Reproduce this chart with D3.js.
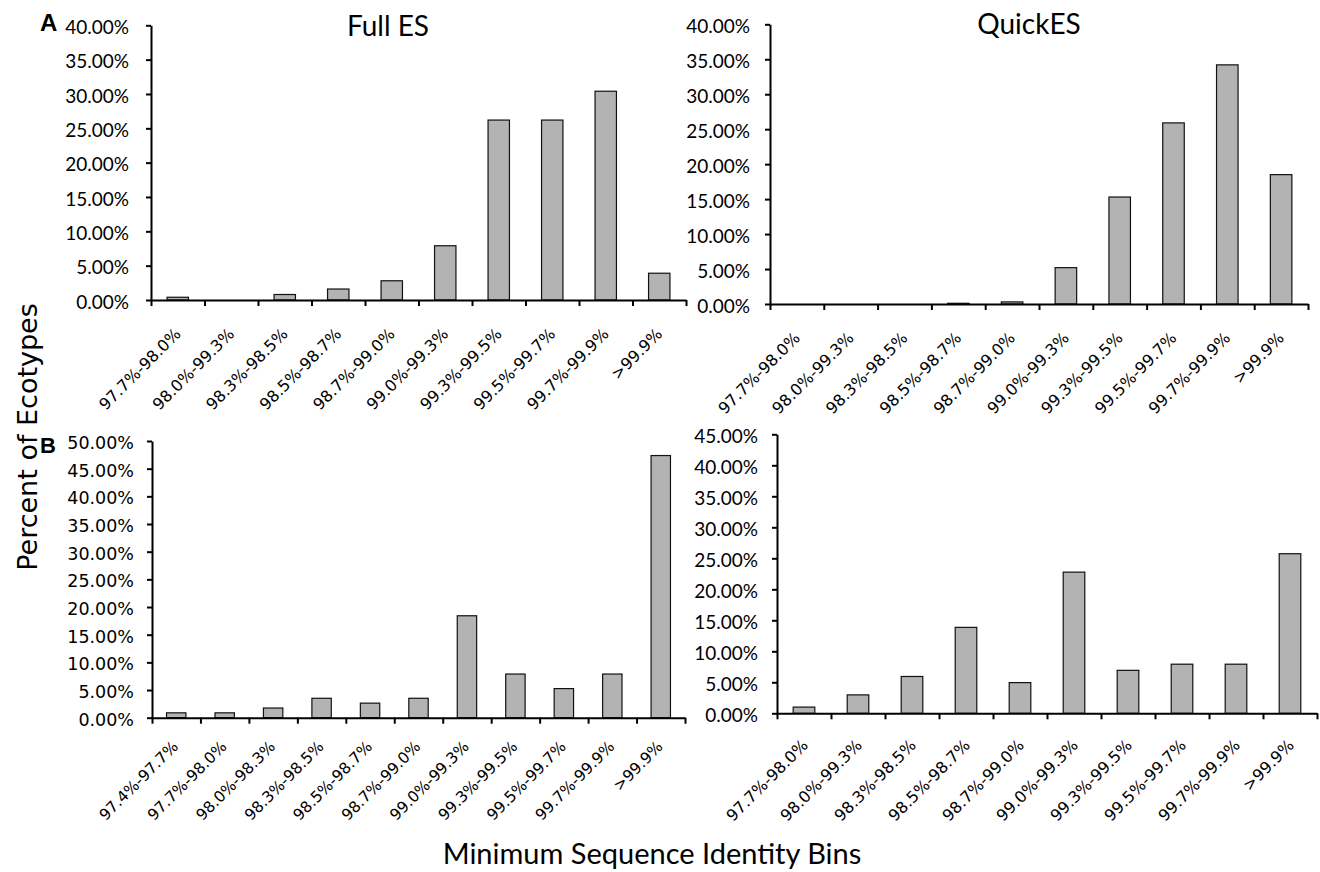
<!DOCTYPE html>
<html>
<head>
<meta charset="utf-8">
<script src="https://cdn.jsdelivr.net/npm/d3@7"></script>
<style>
  html, body { margin: 0; padding: 0; background: #fff; }
  svg { display: block; }
</style>
</head>
<body>
<svg id="chart" width="1320" height="872"></svg>
<script>
// ---------- DATA ----------
const binsTen = ["97.7%-98.0%", "98.0%-99.3%", "98.3%-98.5%", "98.5%-98.7%", "98.7%-99.0%",
                 "99.0%-99.3%", "99.3%-99.5%", "99.5%-99.7%", "99.7%-99.9%", ">99.9%"];
const binsEleven = ["97.4%-97.7%", "97.7%-98.0%", "98.0%-98.3%", "98.3%-98.5%", "98.5%-98.7%",
                    "98.7%-99.0%", "99.0%-99.3%", "99.3%-99.5%", "99.5%-99.7%", "99.7%-99.9%", ">99.9%"];
const fullES_A  = [0.4, 0, 0.8, 1.6, 2.8, 7.9, 26.2, 26.2, 30.4, 3.9];
const quickES_A = [0, 0, 0, 0.1, 0.3, 5.2, 15.3, 25.9, 34.2, 18.5];
const fullES_B  = [0.88, 0.88, 1.75, 3.51, 2.63, 3.51, 18.42, 7.89, 5.26, 7.89, 47.37];
const quickES_B = [1.0, 2.97, 5.94, 13.86, 4.95, 22.77, 6.93, 7.92, 7.92, 25.74];
const yTicks40 = [0, 5, 10, 15, 20, 25, 30, 35, 40];
const yTicks50 = [0, 5, 10, 15, 20, 25, 30, 35, 40, 45, 50];
const yTicks45 = [0, 5, 10, 15, 20, 25, 30, 35, 40, 45];
const titles = ["Full ES", "QuickES"];
const panelLetters = ["A", "B"];
const yTitle = "Percent of Ecotypes";
const xTitle = "Minimum Sequence Identity Bins";

// ---------- DRAW ----------
const svg = d3.select("#chart");
const fmt = d => d3.format(".2f")(d) + "%";

function panel(cfg) {
  const g = svg.append("g");
  const n = cfg.cats.length;
  const x = d3.scaleBand().domain(cfg.cats).range([cfg.x0, cfg.x1])
              .paddingInner(0.6).paddingOuter(0.3);
  const xb = d3.scaleLinear().domain([0, n]).range([cfg.x0, cfg.x1]);
  const y = d3.scaleLinear().domain([0, cfg.yMax]).range([cfg.yBottom, cfg.yTop]);

  // bars
  g.selectAll("rect.bar").data(cfg.values).join("rect")
    .attr("class", "bar")
    .attr("x", (d, i) => x(cfg.cats[i]))
    .attr("y", d => y(d))
    .attr("width", x.bandwidth())
    .attr("height", d => y(0) - y(d))
    .attr("fill", "#b3b3b3")
    .attr("stroke", "#111")
    .attr("stroke-width", 1.2);

  // y axis
  const ya = g.append("g").attr("transform", `translate(${cfg.x0},0)`)
    .call(d3.axisLeft(y).tickValues(cfg.ticks).tickSize(5).tickSizeOuter(0)
          .tickPadding(cfg.tickPad).tickFormat(fmt));
  ya.selectAll("path, line").attr("stroke", "#000").attr("stroke-width", 2);
  ya.selectAll("text").attr("font-family", cfg.yFont).attr("font-size", cfg.yFontSize)
    .attr("fill", "#000").attr("y", 2);

  // x axis (boundary ticks)
  const xa = g.append("g").attr("transform", `translate(0,${cfg.yBottom})`)
    .call(d3.axisBottom(xb).tickValues(d3.range(n + 1)).tickSize(6).tickSizeOuter(0)
          .tickFormat(""));
  xa.selectAll("path, line").attr("stroke", "#000").attr("stroke-width", 2);

  // x category labels
  g.selectAll("text.xl").data(cfg.cats).join("text")
    .attr("class", "xl")
    .attr("text-anchor", "end")
    .attr("font-family", "DejaVu Sans")
    .attr("font-size", cfg.xFontSize)
    .attr("fill", "#000")
    .attr("transform", d => `translate(${x(d) + x.bandwidth() / 2 + cfg.lx},${cfg.yBottom + cfg.ly}) rotate(-45)`)
    .text(d => d);
}

panel({ cats: binsTen, values: fullES_A, ticks: yTicks40, yMax: 40,
        x0: 151, x1: 686, yBottom: 300, yTop: 25.3,
        yFont: "Lato", yFontSize: 19, tickPad: 17, xFontSize: 16, lx: 4, ly: 35 });
panel({ cats: binsTen, values: quickES_A, ticks: yTicks40, yMax: 40,
        x0: 770, x1: 1308, yBottom: 304, yTop: 24.3,
        yFont: "Lato", yFontSize: 19, tickPad: 15, xFontSize: 16, lx: 4, ly: 35 });
panel({ cats: binsEleven, values: fullES_B, ticks: yTicks50, yMax: 50,
        x0: 152, x1: 685, yBottom: 717.7, yTop: 441,
        yFont: "DejaVu Sans", yFontSize: 17.5, tickPad: 13, xFontSize: 15.5, lx: 3, ly: 30 });
panel({ cats: binsTen, values: quickES_B, ticks: yTicks45, yMax: 45,
        x0: 777, x1: 1317, yBottom: 713.3, yTop: 434.3,
        yFont: "Lato", yFontSize: 19, tickPad: 14, xFontSize: 16, lx: 5, ly: 33 });

// panel letters
svg.append("text").attr("x", 40).attr("y", 31).attr("font-family", "Liberation Sans")
  .attr("font-weight", "bold").attr("font-size", 24).text(panelLetters[0]);
svg.append("text").attr("x", 40).attr("y", 453).attr("font-family", "Liberation Sans")
  .attr("font-weight", "bold").attr("font-size", 22).text(panelLetters[1]);

// titles
svg.append("text").attr("x", 388).attr("y", 36).attr("text-anchor", "middle")
  .attr("font-family", "Lato").attr("font-size", 28).text(titles[0]);
svg.append("text").attr("x", 1029).attr("y", 34).attr("text-anchor", "middle")
  .attr("font-family", "Lato").attr("font-size", 28).text(titles[1]);

// axis titles
svg.append("text").attr("transform", "translate(37,437) rotate(-90)").attr("text-anchor", "middle")
  .attr("font-family", "DejaVu Sans").attr("font-size", 27).text(yTitle);
svg.append("text").attr("x", 652).attr("y", 864).attr("text-anchor", "middle")
  .attr("font-family", "Lato").attr("font-size", 29).text(xTitle);
</script>
</body>
</html>
